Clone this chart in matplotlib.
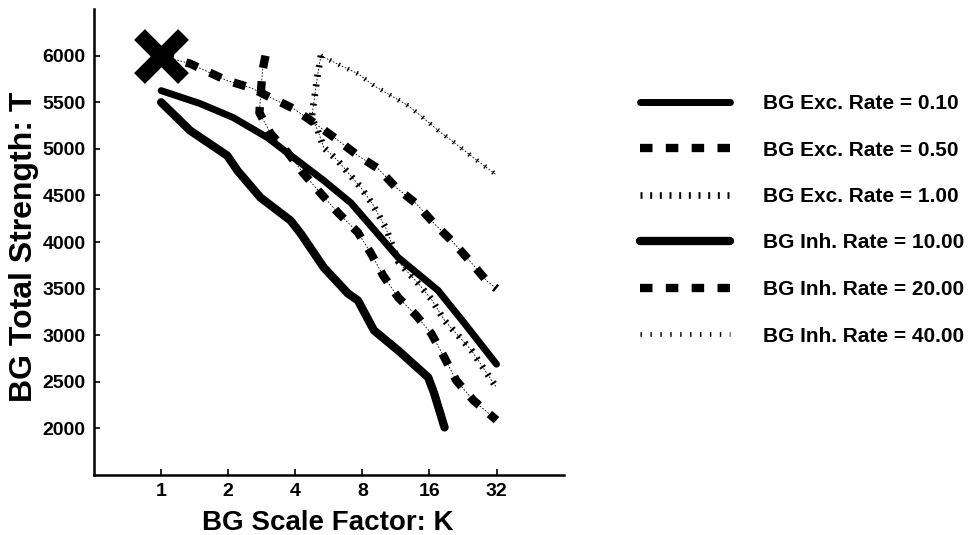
import matplotlib
matplotlib.use("Agg")
import matplotlib.pyplot as plt

plt.rcParams['font.family'] = ['Liberation Sans', 'DejaVu Sans']
plt.rcParams['font.weight'] = 'bold'

# BG scale factor K and total strength T
exc010_k = [1.0, 1.5, 2.11, 3.0, 3.93, 5.37, 7.11, 11.58, 17.5, 23.0, 32]
exc010_t = [5625, 5485, 5335, 5121, 4907, 4660, 4420, 3835, 3481, 3127, 2690]

exc050_k = [1.0, 1.35, 1.98, 2.52, 3.10, 3.93, 4.84, 6.08, 7.64, 9.41, 11.34, 13.95, 16.8, 20.5, 24.2, 28.8, 32]
exc050_t = [6000, 5914, 5732, 5657, 5550, 5432, 5282, 5110, 4928, 4789, 4585, 4413, 4199, 3995, 3802, 3588, 3500]

exc100_k = [5.21, 5.05, 4.89, 4.74, 5.05, 5.37, 6.21, 6.89, 7.88, 8.93, 10.2, 11.6, 14.2, 16.3, 18.7, 24.7, 32]
exc100_t = [6000, 5807, 5571, 5335, 5196, 5014, 4874, 4746, 4585, 4400, 4150, 3790, 3560, 3390, 3159, 2838, 2440]

inh10_k = [1.0, 1.35, 1.98, 2.20, 2.79, 3.81, 4.23, 5.37, 6.89, 7.64, 9.02, 11.58, 15.8, 16.8, 18.7]
inh10_t = [5500, 5196, 4928, 4767, 4478, 4231, 4092, 3727, 3449, 3374, 3052, 2838, 2548, 2377, 2012]

inh20_k = [2.94, 2.85, 2.76, 3.10, 3.70, 4.32, 5.21, 6.21, 7.64, 8.75, 9.91, 11.58, 13.95, 16.3, 18.66, 21.1, 25.2, 32]
inh20_t = [6000, 5840, 5389, 5164, 4960, 4746, 4521, 4317, 4103, 3877, 3642, 3406, 3213, 3020, 2763, 2516, 2302, 2090]

inh40_k = [5.21, 6.41, 7.64, 9.02, 10.76, 12.84, 15.16, 17.53, 20.7, 25.5, 32]
inh40_t = [6000, 5893, 5807, 5678, 5571, 5464, 5325, 5196, 5067, 4896, 4720]

ref_k = 1
ref_t = 6000

labels = ['BG Exc. Rate = 0.10', 'BG Exc. Rate = 0.50', 'BG Exc. Rate = 1.00',
          'BG Inh. Rate = 10.00', 'BG Inh. Rate = 20.00', 'BG Inh. Rate = 40.00']

fig = plt.figure(figsize=(9.7, 5.35), dpi=100)
fig.set_facecolor('white')
ax = fig.add_axes([0.097, 0.112, 0.484, 0.871])

thin = dict(color='black', lw=0.6, ls=(0, (2, 2)), zorder=1)

# thin connectors under the dashed / dotted curves
ax.plot(exc050_k, exc050_t, **thin)
ax.plot(exc100_k, exc100_t, **thin)
ax.plot(inh20_k, inh20_t, **thin)
ax.plot(inh40_k, inh40_t, **thin)

ax.plot(exc010_k, exc010_t, color='black', lw=5, solid_capstyle='round',
        solid_joinstyle='round', label=labels[0])
ax.plot(exc050_k, exc050_t, color='black', lw=6, ls=(0, (1.5, 1.6)),
        dash_capstyle='butt', label=labels[1])
ax.plot(exc100_k, exc100_t, color='black', lw=4.8, ls=(0, (0.3, 1.15)),
        dash_capstyle='butt', label=labels[2])
ax.plot(inh10_k, inh10_t, color='black', lw=6, solid_capstyle='round',
        solid_joinstyle='round', label=labels[3])
ax.plot(inh20_k, inh20_t, color='black', lw=6, ls=(0, (1.5, 1.6)),
        dash_capstyle='butt', label=labels[4])
ax.plot(inh40_k, inh40_t, color='black', lw=3.4, ls=(0, (0.3, 1.8)),
        dash_capstyle='butt', label=labels[5])

ax.plot(ref_k, ref_t, marker='x', ms=32, mew=11, color='black', zorder=5)

ax.set_xscale('log', base=2)
ax.set_xlim(0.5, 64)
ax.set_ylim(1500, 6500)
ax.set_xticks([1, 2, 4, 8, 16, 32])
ax.set_xticklabels(['1', '2', '4', '8', '16', '32'])
ax.xaxis.set_minor_locator(matplotlib.ticker.NullLocator())
ax.set_yticks([2000, 2500, 3000, 3500, 4000, 4500, 5000, 5500, 6000])

ax.spines['top'].set_visible(False)
ax.spines['right'].set_visible(False)
ax.spines['left'].set_linewidth(1.8)
ax.spines['bottom'].set_linewidth(1.8)
ax.tick_params(direction='in', length=4, width=1.2, labelsize=14, pad=6)

ax.set_xlabel('BG Scale Factor: K', fontsize=20, fontweight='bold')
ax.set_ylabel('BG Total Strength: T', fontsize=23, fontweight='bold')
ax.xaxis.set_label_coords(0.498, -0.075)
ax.yaxis.set_label_coords(-0.117, 0.491)

fig.legend(loc='upper left', bbox_to_anchor=(640 / 970, 1 - 94 / 535),
           frameon=False, fontsize=15, handlelength=4.3, handletextpad=1.6,
           labelspacing=1.32, borderpad=0, borderaxespad=0)

fig.savefig('out.png', dpi=100)
